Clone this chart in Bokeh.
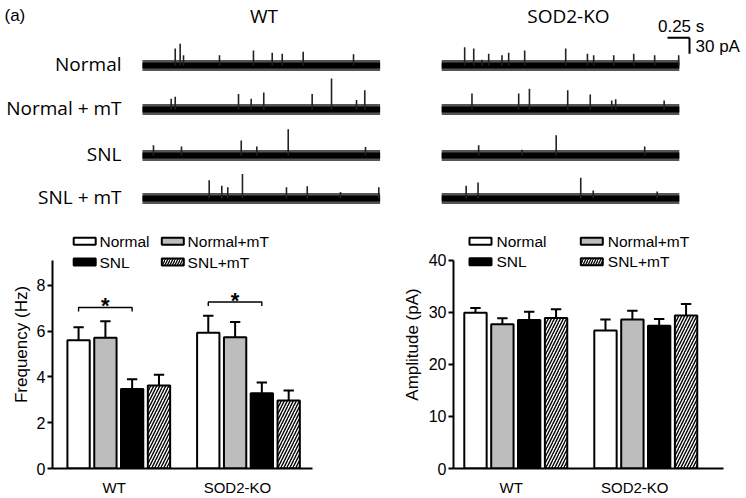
from bokeh.plotting import figure
from bokeh.models import Range1d, FixedTicker, Label, ColumnDataSource
from bokeh.layouts import column, row
from bokeh.core.properties import value
from bokeh.embed import file_html
from bokeh.resources import INLINE

# ---------------- data ----------------
CONDITIONS = ["Normal", "Normal+mT", "SNL", "SNL+mT"]
TRACE_LABELS = ["Normal", "Normal + mT", "SNL", "SNL + mT"]
GROUPS = ["WT", "SOD2-KO"]

# (b) sEPSC frequency (Hz), mean and SEM, order = CONDITIONS
FREQ_WT = [5.60, 5.71, 3.47, 3.62]
FREQ_WT_SEM = [0.57, 0.72, 0.43, 0.47]
FREQ_KO = [5.93, 5.73, 3.29, 2.97]
FREQ_KO_SEM = [0.74, 0.67, 0.46, 0.43]

# (c) sEPSC amplitude (pA), mean and SEM
AMP_WT = [29.9, 27.7, 28.5, 28.9]
AMP_WT_SEM = [0.9, 1.15, 1.6, 1.7]
AMP_KO = [26.5, 28.6, 27.4, 29.4]
AMP_KO_SEM = [2.1, 1.7, 1.3, 2.2]

FREQ_TICKS = [0, 2, 4, 6, 8]
AMP_TICKS = [0, 10, 20, 30, 40]

# (a) example traces: event times (s) and event amplitudes (pA), per row
TRACE_DURATION = 2.7
WT_SPIKE_T = [
    [0.372, 0.428, 0.466, 0.875, 1.261, 1.474, 1.588, 1.826, 2.398],
    [0.326, 0.372, 1.091, 1.235, 1.378, 1.928, 2.148, 2.432, 2.526],
    [0.125, 0.443, 1.122, 1.299, 1.656, 2.534],
    [0.758, 0.901, 0.969, 1.136, 1.636, 1.872, 2.250, 2.685],
]
WT_SPIKE_PA = [
    [32, 41, 19, 19, 28, 24, 22, 26, 21],
    [20, 24, 29, 20, 32, 29, 58, 18, 36],
    [19, 17, 28, 17, 49, 16],
    [34, 24, 21, 46, 21, 23, 12, 21],
]
KO_SPIKE_T = [
    [0.261, 0.364, 0.458, 0.534, 0.685, 0.761, 0.943, 1.409, 1.656, 1.727, 1.955, 2.182, 2.420, 2.693],
    [0.344, 0.875, 0.997, 1.432, 1.688, 1.932, 1.977, 2.528],
    [0.420, 0.913, 1.301, 2.307],
    [0.278, 0.413, 1.580, 1.722, 2.449],
]
KO_SPIKE_PA = [
    [34, 32, 11, 22, 19, 24, 28, 32, 22, 19, 19, 22, 19, 19],
    [30, 30, 39, 36, 28, 17, 19, 17],
    [19, 11, 38, 17],
    [24, 30, 39, 15, 13],
]
SCALE_T = 0.25   # s
SCALE_PA = 30    # pA

# ---------------- styles / layout ----------------
FILLS = ["white", "#bdbdbd", "black", "white"]
HATCH = [None, None, None, "/"]
GROUP_X = [1.0, 2.0]
BAR_OFFSETS = [-0.31, -0.103, 0.103, 0.31]
BAR_W = 0.172
CAP = 0.04
LABEL_SHIFT = [-0.035, -0.085]
AX_FONT = "Liberation Sans"
TR_FONT = "Open Sans"


def base_fig(w, h, xr, yr, **kw):
    p = figure(width=w, height=h, x_range=xr, y_range=yr, output_backend="svg",
               toolbar_location=None, **kw)
    p.outline_line_color = None
    p.background_fill_color = "white"
    p.border_fill_color = "white"
    return p


# ---------------- (a) traces ----------------
TOP_W, TOP_H = 746, 220
PX_S = 88.0            # px per second
PX_PA = 16.0 / 30.0    # px per pA
t_start = -142 / PX_S
y_top = 65 / PX_PA
top = base_fig(TOP_W, TOP_H, Range1d(t_start, t_start + TOP_W / PX_S),
               Range1d(y_top - TOP_H / PX_PA, y_top),
               x_axis_type=None, y_axis_type=None,
               min_border_left=0, min_border_right=0, min_border_top=0, min_border_bottom=0)
top.grid.visible = False

ROW_PX = [0, 44, 90, 133]
ROW_Y = [-r / PX_PA for r in ROW_PX]
KO_OFFSET = 3.4
for off, spt, spa in [(0.0, WT_SPIKE_T, WT_SPIKE_PA), (KO_OFFSET, KO_SPIKE_T, KO_SPIKE_PA)]:
    for i, ry in enumerate(ROW_Y):
        top.segment(x0=[off], y0=[ry], x1=[off + TRACE_DURATION], y1=[ry],
                    line_width=11, line_color="#555555")
        top.segment(x0=[off], y0=[ry], x1=[off + TRACE_DURATION], y1=[ry],
                    line_width=6, line_color="black")
        xs = [off + t for t in spt[i]]
        top.segment(x0=xs, y0=[ry] * len(xs), x1=xs, y1=[ry + a for a in spa[i]],
                    line_width=1.6, line_color="#222222")

top.text(x=[-21 / PX_S] * 4, y=[ry + 2 / PX_PA for ry in ROW_Y], text=TRACE_LABELS,
         text_font=value(TR_FONT), text_font_size="19px", text_align="right",
         text_baseline="middle", text_color="black")
top.text(x=[1.38, KO_OFFSET + 1.44], y=[50 / PX_PA] * 2, text=GROUPS,
         text_font=value(TR_FONT), text_font_size="19px", text_align="center",
         text_baseline="middle", text_color="black")
top.text(x=[t_start + 4 / PX_S], y=[50 / PX_PA], text=["(a)"], text_font=value(AX_FONT),
         text_font_size="17px", text_align="left", text_baseline="middle", text_color="black")
# scale bar
sb_x1 = (689 - 142) / PX_S
sb_y = (65 - 37.3) / PX_PA
top.segment(x0=[sb_x1 - SCALE_T, sb_x1], y0=[sb_y, sb_y], x1=[sb_x1, sb_x1],
            y1=[sb_y, sb_y - SCALE_PA], line_width=2, line_color="black")
top.text(x=[sb_x1 - SCALE_T / 2 + 0.03], y=[sb_y + 11 / PX_PA], text=[f"{SCALE_T} s"],
         text_font=value(AX_FONT), text_font_size="17px", text_align="center",
         text_baseline="middle", text_color="black")
top.text(x=[sb_x1 + 6 / PX_S], y=[sb_y - SCALE_PA / 2 - 0.5 / PX_PA], text=[f"{SCALE_PA} pA"],
         text_font=value(AX_FONT), text_font_size="17px", text_align="left",
         text_baseline="middle", text_color="black")


# ---------------- (b), (c) bar panels ----------------
def bar_panel(means, sems, ml, mr, mb, x_start, ppx, ppy, yticks, ytop, ylabel,
              leg_cols_px, leg_rows_px, leg_dx, letter, letter_px, title_standoff, sig=False):
    W, H = 373, 278
    fw, fh = W - ml - mr, H - mb
    xr = Range1d(x_start, x_start + fw / ppx)
    yr = Range1d(0, fh / ppy)
    p = base_fig(W, H, xr, yr, min_border_left=ml, min_border_right=mr,
                 min_border_top=0, min_border_bottom=mb)
    p.grid.visible = False
    X = lambda px: x_start + px / ppx
    Y = lambda py: yr.end - py / ppy

    for k in range(len(CONDITIONS)):
        xs = [GROUP_X[g] + BAR_OFFSETS[k] for g in range(len(GROUPS))]
        tops = [means[g][k] for g in range(len(GROUPS))]
        etop = [means[g][k] + sems[g][k] for g in range(len(GROUPS))]
        src = ColumnDataSource(dict(x=xs, top=tops, etop=etop,
                                    xl=[x - CAP for x in xs], xr=[x + CAP for x in xs]))
        p.segment(x0="x", y0="top", x1="x", y1="etop", source=src, line_width=2, line_color="black")
        p.segment(x0="xl", y0="etop", x1="xr", y1="etop", source=src, line_width=2, line_color="black")
        p.vbar(x="x", top="top", width=BAR_W, bottom=0, source=src, fill_color=FILLS[k],
               line_color="black", line_width=2, hatch_pattern=HATCH[k], hatch_color="black",
               hatch_weight=1.4, hatch_scale=6)

    if sig:
        for g in range(len(GROUPS)):
            xa = GROUP_X[g] + BAR_OFFSETS[0]
            xb = GROUP_X[g] + BAR_OFFSETS[2]
            hb = max(means[g][0] + sems[g][0], means[g][1] + sems[g][1]) + 0.6
            p.line(x=[xa, xa, xb, xb], y=[hb - 0.18, hb, hb, hb - 0.18], line_width=1.4, line_color="black")
            p.text(x=[(xa + xb) / 2], y=[hb + 0.07], text=["*"], text_font=value(AX_FONT),
                   text_font_style="bold", text_font_size="22px", text_align="center",
                   text_baseline="alphabetic", text_color="black")

    # legend
    for k, cond in enumerate(CONDITIONS):
        cx, ry = leg_cols_px[k % 2], leg_rows_px[k // 2]
        p.rect(x=[X(cx)], y=[Y(ry)], width=22, height=7, width_units="screen", height_units="screen",
               fill_color=FILLS[k], line_color="black", line_width=2, hatch_pattern=HATCH[k],
               hatch_color="black", hatch_weight=1.3, hatch_scale=5)
        p.text(x=[X(cx + leg_dx)], y=[Y(ry)], text=[cond], text_font=value(AX_FONT),
               text_font_size="15.5px", text_align="left", text_baseline="middle", text_color="black")

    p.add_layout(Label(x=X(letter_px[0]), y=Y(letter_px[1]), text=letter, text_font=AX_FONT,
                       text_font_size="17px", text_baseline="middle", text_color="black"))

    ya = p.yaxis[0]
    ya.ticker = FixedTicker(ticks=yticks)
    ya.bounds = (0, ytop)
    ya.axis_line_width = 2
    ya.major_tick_line_width = 2
    ya.major_tick_out = 5
    ya.major_tick_in = 0
    ya.minor_tick_out = 0
    ya.minor_tick_in = 0
    ya.major_label_text_font = AX_FONT
    ya.major_label_text_font_size = "16px"
    ya.major_label_text_color = "black"
    ya.major_label_standoff = 2
    ya.axis_label = ylabel
    ya.axis_label_text_font = AX_FONT
    ya.axis_label_text_font_style = "normal"
    ya.axis_label_text_font_size = "17px"
    ya.axis_label_text_color = "black"
    ya.axis_label_standoff = title_standoff

    xa = p.xaxis[0]
    label_ticks = [GROUP_X[g] + LABEL_SHIFT[g] for g in range(len(GROUPS))]
    xa.ticker = FixedTicker(ticks=label_ticks)
    xa.major_label_overrides = {t: name for t, name in zip(label_ticks, GROUPS)}
    xa.axis_line_width = 2
    xa.major_tick_out = 0
    xa.major_tick_in = 0
    xa.minor_tick_out = 0
    xa.minor_tick_in = 0
    xa.major_label_text_font = AX_FONT
    xa.major_label_text_font_size = "15px"
    xa.major_label_text_color = "black"
    xa.major_label_standoff = 10
    return p


pb = bar_panel([FREQ_WT, FREQ_KO], [FREQ_WT_SEM, FREQ_KO_SEM], ml=52, mr=61, mb=29,
               x_start=0.489, ppx=129.7, ppy=23.0, yticks=FREQ_TICKS, ytop=9.1,
               ylabel="Frequency (Hz)", leg_cols_px=[32.2, 120.3], leg_rows_px=[20.8, 41.7],
               leg_dx=14.8, letter="(b)", letter_px=(-48, 18), title_standoff=3, sig=True)
pc = bar_panel([AMP_WT, AMP_KO], [AMP_WT_SEM, AMP_KO_SEM], ml=80, mr=23, mb=28,
               x_start=0.521, ppx=130.0, ppy=5.25, yticks=AMP_TICKS, ytop=40,
               ylabel="Amplitude (pA)", leg_cols_px=[27.0, 138.3], leg_rows_px=[21.0, 41.7],
               leg_dx=16.0, letter="(c)", letter_px=(-58, 16), title_standoff=4)

layout = column(top, row(pb, pc, spacing=0), spacing=0)
open("out.html", "w").write(file_html(layout, INLINE))
